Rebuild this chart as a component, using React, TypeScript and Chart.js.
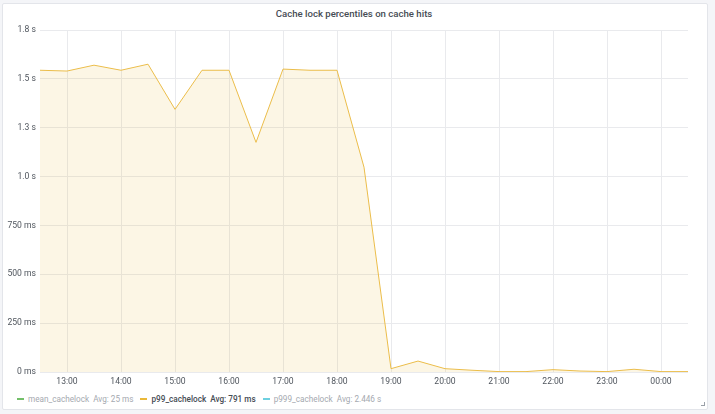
import { useEffect, useRef } from 'react'
import { Chart, registerables } from 'chart.js'

Chart.register(...registerables)

// time of each sample, in hours (12.5 = 12:30, 24.5 = 00:30)
const sampleHours = [
  12.5, 13, 13.5, 14, 14.5, 15, 15.5, 16, 16.5, 17, 17.5, 18, 18.5,
  19, 19.5, 20, 20.5, 21, 21.5, 22, 22.5, 23, 23.5, 24, 24.5,
]

// p99_cachelock, seconds
const p99Values = [
  1.544, 1.54, 1.57, 1.544, 1.575, 1.344, 1.544, 1.544, 1.175, 1.55, 1.544, 1.544, 1.048,
  0.017, 0.056, 0.017, 0.009, 0.002, 0.002, 0.012, 0.005, 0.002, 0.014, 0.002, 0.002,
]

const hourTicks = [13, 14, 15, 16, 17, 18, 19, 20, 21, 22, 23, 24]

const legendItems = [
  { name: 'mean_cachelock', avg: 'Avg: 25 ms', color: '#73bf69', hidden: true },
  { name: 'p99_cachelock', avg: 'Avg: 791 ms', color: '#eab839', hidden: false },
  { name: 'p999_cachelock', avg: 'Avg: 2.446 s', color: '#6ed0e0', hidden: true },
]

const FONT = 'Roboto, "Noto Sans", sans-serif'

function formatSeconds(v: number) {
  if (v < 1) return `${Math.round(v * 1000)} ms`
  return `${v.toFixed(1)} s`
}

function formatHour(h: number) {
  return `${String(h % 24).padStart(2, '0')}:00`
}

export default function App() {
  const canvasRef = useRef<HTMLCanvasElement>(null)

  useEffect(() => {
    document.body.style.margin = '0'
    document.body.style.background = '#f4f5f8'
    if (!canvasRef.current) return

    const chart = new Chart(canvasRef.current, {
      type: 'line',
      data: {
        datasets: [
          {
            label: 'p99_cachelock',
            data: sampleHours.map((h, i) => ({ x: h, y: p99Values[i] })),
            borderColor: '#ebbd4a',
            backgroundColor: 'rgba(234,184,57,0.13)',
            borderWidth: 1,
            fill: 'origin',
            pointRadius: 0,
            tension: 0,
          },
        ],
      },
      options: {
        animation: false,
        responsive: false,
        maintainAspectRatio: false,
        layout: { padding: { top: 30, right: 27, left: 0, bottom: 0 } },
        plugins: {
          legend: { display: false },
          tooltip: { enabled: false },
          title: { display: false },
        },
        scales: {
          x: {
            type: 'linear',
            min: 12.5,
            max: 24.5,
            afterBuildTicks: (scale: any) => {
              scale.ticks = hourTicks.map((v) => ({ value: v }))
            },
            afterFit: (scale: any) => {
              scale.height = 20
            },
            grid: { color: '#e9eaed', drawTicks: false },
            border: { display: false },
            ticks: {
              padding: 5,
              maxRotation: 0,
              autoSkip: false,
              color: '#50565e',
              font: { family: FONT, size: 8.6 },
              callback: (v: any) => formatHour(Number(v)),
            },
          },
          y: {
            min: 0,
            max: 1.75,
            afterFit: (scale: any) => {
              scale.width = 40
            },
            grid: { color: '#e9eaed', drawTicks: false },
            border: { display: false },
            ticks: {
              stepSize: 0.25,
              padding: 4,
              color: '#50565e',
              font: { family: FONT, size: 8.6 },
              callback: (v: any) => formatSeconds(Number(v)),
            },
          },
        },
      },
    } as any)

    return () => {
      chart.destroy()
    }
  }, [])

  return (
    <div style={{ position: 'relative', width: 715, height: 414, fontFamily: FONT }}>
      <div
        style={{
          position: 'absolute',
          left: 2,
          top: 3,
          width: 704,
          height: 405,
          background: '#fff',
          border: '1px solid #e3e5ea',
          borderRadius: 2,
        }}
      />
      <div
        style={{
          position: 'absolute',
          left: 0,
          top: 8,
          width: 708,
          textAlign: 'center',
          fontSize: 9.6,
          lineHeight: '12px',
          fontWeight: 500,
          color: '#464c54',
        }}
      >
        Cache lock percentiles on cache hits
      </div>
      <canvas
        ref={canvasRef}
        width={715}
        height={392}
        style={{ position: 'absolute', left: 0, top: 0 }}
      />
      <div
        style={{
          position: 'absolute',
          left: 17,
          top: 394,
          display: 'flex',
          gap: 7,
          fontSize: 8.2,
          lineHeight: '10px',
          whiteSpace: 'nowrap',
        }}
      >
        {legendItems.map((item) => (
          <div
            key={item.name}
            style={{
              display: 'flex',
              alignItems: 'center',
              color: item.hidden ? '#a5a9b0' : '#464c54',
              fontWeight: item.hidden ? 400 : 500,
            }}
          >
            <span
              style={{
                display: 'inline-block',
                width: 7,
                height: 2,
                background: item.color,
                marginRight: 4,
              }}
            />
            <span>{item.name}</span>
            <span style={{ marginLeft: 4 }}>{item.avg}</span>
          </div>
        ))}
      </div>
      <div
        style={{
          position: 'absolute',
          left: 701,
          top: 402,
          width: 3,
          height: 3,
          borderRight: '1px solid #9aa0a8',
          borderBottom: '1px solid #9aa0a8',
        }}
      />
    </div>
  )
}
